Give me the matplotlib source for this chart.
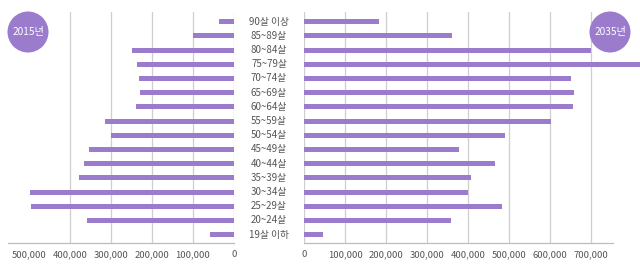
import matplotlib
matplotlib.use("Agg")
import matplotlib.pyplot as plt
from matplotlib.patches import Ellipse
from matplotlib.transforms import blended_transform_factory

plt.rcParams['font.family'] = ['Noto Sans CJK KR', 'DejaVu Sans']

age_groups = ["90살 이상", "85~89살", "80~84살", "75~79살", "70~74살", "65~69살",
              "60~64살", "55~59살", "50~54살", "45~49살", "40~44살", "35~39살",
              "30~34살", "25~29살", "20~24살", "19살 이하"]
pop_2015 = [36000, 100000, 249000, 237000, 232000, 229000, 239000, 314000,
            301000, 354000, 366000, 379000, 497000, 494000, 358000, 58000]
pop_2035 = [183000, 360000, 700000, 830000, 650000, 658000, 656000, 602000,
            489000, 377000, 465000, 407000, 399000, 481000, 357000, 46000]
left_ticks = [0, 100000, 200000, 300000, 400000, 500000]
right_ticks = [0, 100000, 200000, 300000, 400000, 500000, 600000, 700000]
year_left = "2015년"
year_right = "2035년"

purple = '#9b7bcc'
grid_c = '#cfcfcf'
text_c = '#555555'

W, H = 640, 264
fig = plt.figure(figsize=(6.4, 2.64), dpi=100)

def rect(x0, x1, ytop=12, ybot=243):
    return [x0 / W, (H - ybot) / H, (x1 - x0) / W, (ybot - ytop) / H]

ax1 = fig.add_axes(rect(8, 234))
ax2 = fig.add_axes(rect(304.3, 613))

n = len(age_groups)
ypos = [n - 1 - i for i in range(n)]
ylim = (-0.585, 15.68)

px_per_unit = 41 / 100000
ax1.barh(ypos, pop_2015, height=0.36, color=purple, zorder=2)
ax1.set_xlim((234 - 8) / px_per_unit, 0)
ax2.barh(ypos, pop_2035, height=0.36, color=purple, zorder=2, clip_on=False)
ax2.set_xlim(0, (613 - 304.3) / px_per_unit)

for ax, ticks in ((ax1, left_ticks), (ax2, right_ticks)):
    ax.set_ylim(*ylim)
    ax.set_yticks([])
    ax.set_xticks(ticks)
    ax.set_xticklabels([f"{t:,}" for t in ticks])
    ax.tick_params(axis='x', length=0, pad=5, labelsize=6.8, labelcolor=text_c)
    for s in ('top', 'left', 'right'):
        ax.spines[s].set_visible(False)
    ax.spines['bottom'].set_color('#bdbdbd')
    ax.spines['bottom'].set_linewidth(0.9)
    ax.set_facecolor('none')

for t in left_ticks:
    if t <= 400000:
        ax1.axvline(t, color=grid_c, lw=0.9, zorder=1)
for t in right_ticks:
    ax2.axvline(t, color=grid_c, lw=0.9, zorder=1)

tr = blended_transform_factory(fig.transFigure, ax1.transData)
for y, lab in zip(ypos, age_groups):
    fig.text(269 / W, y, lab, transform=tr, ha='center', va='center',
             fontsize=7, color=text_c)

for cx, lab in ((28, year_left), (610, year_right)):
    e = Ellipse((cx / W, (H - 32) / H), 41 / W, 41 / H, transform=fig.transFigure,
                facecolor=purple, edgecolor='none', zorder=5)
    fig.patches.append(e)
    fig.text(cx / W, (H - 32) / H, lab, ha='center', va='center', fontsize=7.3,
             color='white', zorder=6)

fig.savefig("out.png", dpi=100)
